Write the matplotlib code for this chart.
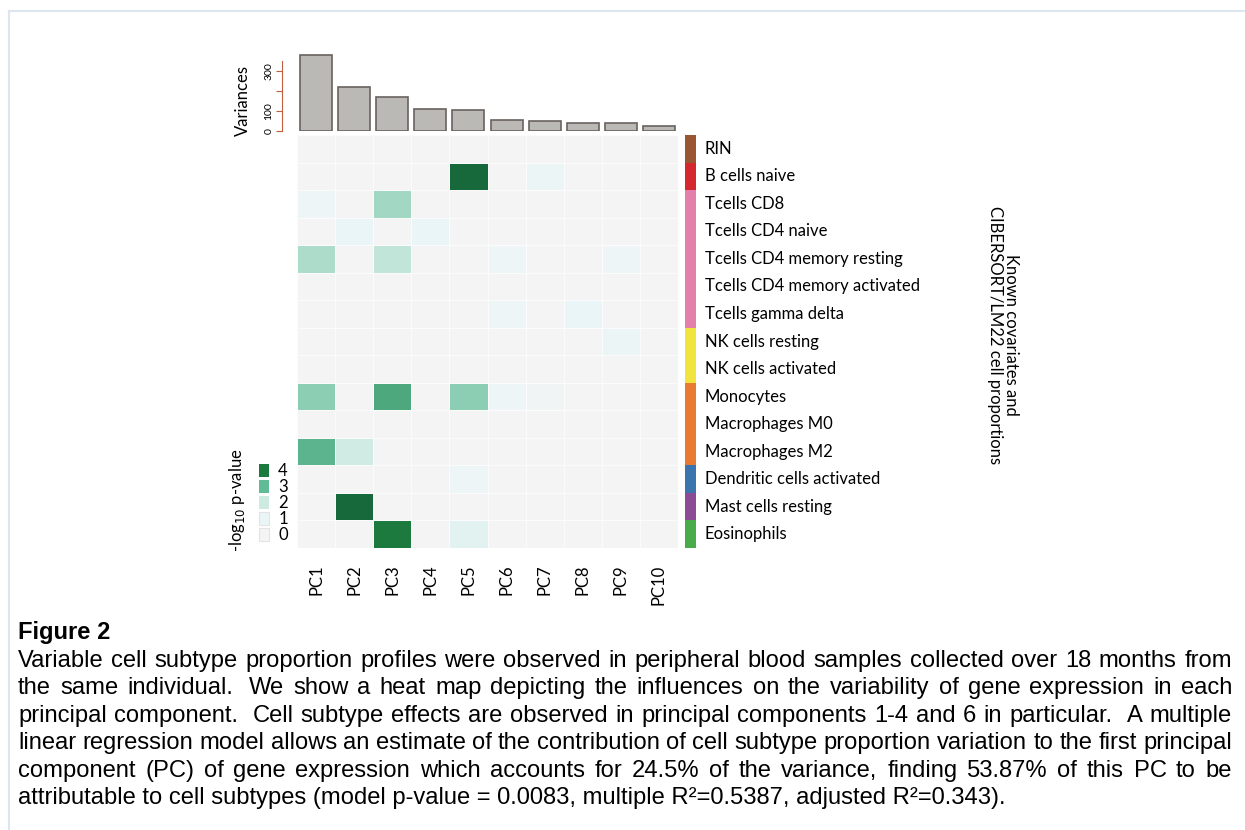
import re
import matplotlib
matplotlib.use('Agg')
import matplotlib.pyplot as plt
import numpy as np
from matplotlib.colors import LinearSegmentedColormap
from matplotlib.patches import Rectangle

# data
pcs = ['PC1', 'PC2', 'PC3', 'PC4', 'PC5', 'PC6', 'PC7', 'PC8', 'PC9', 'PC10']
variances = [378, 222, 170, 108, 103, 53, 48, 42, 38, 25]

row_names = ['RIN', 'B cells naive', 'Tcells CD8', 'Tcells CD4 naive',
             'Tcells CD4 memory resting', 'Tcells CD4 memory activated',
             'Tcells gamma delta', 'NK cells resting', 'NK cells activated',
             'Monocytes', 'Macrophages M0', 'Macrophages M2',
             'Dendritic cells activated', 'Mast cells resting', 'Eosinophils']
row_colors = ['#9a5532', '#d5272e', '#e27fab', '#e27fab', '#e27fab', '#e27fab',
              '#e27fab', '#f2e43f', '#f2e43f', '#e97a32', '#e97a32', '#e97a32',
              '#3a76ad', '#8c4c94', '#4aab4b']

# -log10 p-values, rows x PCs
logp = np.array([
    [0, 0, 0, 0, 0, 0, 0, 0, 0, 0],
    [0, 0, 0, 0, 4.3, 0, 0.8, 0, 0, 0],
    [0.7, 0, 2.4, 0, 0, 0, 0, 0, 0, 0],
    [0, 1.0, 0, 1.0, 0, 0, 0, 0, 0, 0],
    [2.3, 0, 2.1, 0, 0, 0.6, 0, 0, 0.6, 0],
    [0, 0, 0, 0, 0, 0, 0, 0, 0, 0],
    [0, 0, 0, 0, 0, 0.6, 0, 1.0, 0, 0],
    [0, 0, 0, 0, 0, 0, 0, 0, 0.8, 0],
    [0, 0, 0, 0, 0, 0, 0, 0, 0, 0],
    [2.6, 0, 3.3, 0, 2.6, 0.6, 0.3, 0, 0, 0],
    [0, 0, 0, 0, 0, 0, 0, 0, 0, 0],
    [3.1, 1.9, 0, 0, 0, 0, 0, 0, 0, 0],
    [0, 0, 0, 0, 0.7, 0, 0, 0, 0, 0],
    [0, 4.3, 0, 0, 0, 0, 0, 0, 0, 0],
    [0, 0, 4.0, 0, 1.3, 0, 0, 0, 0, 0],
])
legend_vals = [4, 3, 2, 1, 0]

caption_title = 'Figure 2'
caption_lines = [
    'Variable cell subtype proportion profiles were observed in peripheral blood samples collected over 18 months from',
    'the same individual.  We show a heat map depicting the influences on the variability of gene expression in each',
    'principal component.  Cell subtype effects are observed in principal components 1-4 and 6 in particular.  A multiple',
    'linear regression model allows an estimate of the contribution of cell subtype proportion variation to the first principal',
    'component (PC) of gene expression which accounts for 24.5% of the variance, finding 53.87% of this PC to be',
    'attributable to cell subtypes (model p-value = 0.0083, multiple R\u00b2=0.5387, adjusted R\u00b2=0.343).',
]

W, H = 1245, 830
vmax = 4.4
cmap = LinearSegmentedColormap.from_list(
    'pv', [(0, '#f4f4f4'), (1 / vmax, '#eaf5f7'), (2 / vmax, '#cdeae1'),
           (3 / vmax, '#62bb97'), (4 / vmax, '#1d7a3e'), (1, '#15633a')])

lab_font = 'Lato'
cap_font = 'Liberation Sans'

fig = plt.figure(figsize=(W / 100, H / 100), dpi=100)

def fx(px):
    return px / W

def fy(py):
    return 1 - py / H

# overlay in pixel coordinates for frame and legend
ov = fig.add_axes([0, 0, 1, 1])
ov.set_xlim(0, W)
ov.set_ylim(H, 0)
ov.axis('off')
ov.plot([9, 9], [11, H], color='#dde5ef', lw=1.5)
ov.plot([9, W], [11, 11], color='#dde5ef', lw=1.5)

# heatmap
hm_l, hm_r, hm_t, hm_b = 297, 678, 135, 548
ax = fig.add_axes([fx(hm_l), fy(hm_b), fx(hm_r - hm_l), (hm_b - hm_t) / H])
ax.pcolormesh(np.arange(len(pcs) + 1), np.arange(len(row_names) + 1), logp,
              cmap=cmap, vmin=0, vmax=vmax, edgecolors='#fbfbfb', linewidth=0.7)
ax.set_xlim(0, len(pcs))
ax.set_ylim(len(row_names), 0)
for s in ax.spines.values():
    s.set_visible(False)
ax.set_yticks([])
ax.set_xticks(np.arange(len(pcs)) + 0.5)
ax.set_xticklabels(pcs, rotation=90, fontsize=12, family=lab_font)
ax.tick_params(axis='x', length=0, pad=12)
for i, name in enumerate(row_names):
    ax.text(1 + (705 - hm_r) / (hm_r - hm_l), i + 0.5, name,
            transform=ax.get_yaxis_transform(), ha='left', va='center',
            fontsize=12, family=lab_font)

# side colour strip
axs = fig.add_axes([fx(685), fy(hm_b), fx(11), (hm_b - hm_t) / H])
for i, c in enumerate(row_colors):
    axs.add_patch(Rectangle((0, i), 1, 1, color=c, lw=0))
axs.set_xlim(0, 1)
axs.set_ylim(len(row_names), 0)
axs.axis('off')

# variance bars
axb = fig.add_axes([fx(hm_l), fy(131), fx(hm_r - hm_l), 78 / H])
axb.bar(np.arange(len(pcs)) + 0.5, variances, width=0.84, color='#bab9b5',
        edgecolor='#6a625e', linewidth=1.2)
axb.set_xlim(0, len(pcs))
axb.set_ylim(0, 390)
for k in ['top', 'right', 'bottom']:
    axb.spines[k].set_visible(False)
axb.spines['left'].set_position(('outward', 11))
axb.spines['left'].set_bounds(0, 350)
axb.spines['left'].set_color('#c0603f')
axb.spines['left'].set_linewidth(0.8)
axb.set_xticks([])
axb.set_yticks([0, 100, 200, 300])
axb.set_yticklabels(['0', '100', '', '300'], rotation=90, va='center',
                    fontsize=7.5, family=lab_font)
axb.tick_params(axis='y', length=4, width=0.8, color='#c0603f', pad=2)
fig.text(fx(243), fy(100), 'Variances', rotation=90, ha='center', va='center',
         fontsize=12, family=lab_font)

# right hand title
fig.text(fx(1003), fy(335), 'Known covariates and\nCIBERSORT/LM22 cell proportions',
         rotation=-90, ha='center', va='center', fontsize=12, family=lab_font,
         linespacing=1.0, multialignment='center')

# legend
for k, v in enumerate(legend_vals):
    y0 = 464 + k * 16
    edge = '#e3e3e3' if v < 2 else 'none'
    ov.add_patch(Rectangle((259, y0), 10, 13, facecolor=cmap(v / vmax),
                           edgecolor=edge, lw=0.8))
    ov.text(283, y0 + 6.5, str(v), ha='center', va='center', fontsize=12,
            family=lab_font)
fig.text(fx(237), fy(500), r'-log$_{10}$ p-value', rotation=90, ha='center',
         va='center', fontsize=12, family=lab_font)

# caption, justified
fig.canvas.draw()
renderer = fig.canvas.get_renderer()

def width(s, size):
    t = fig.text(0, 0, s, fontsize=size, family=cap_font)
    w = t.get_window_extent(renderer).width
    t.remove()
    return w

x0, x1 = 18, 1232
cap_size = 13.5 * (x1 - x0) / width(caption_lines[3], 13.5)
fig.text(fx(x0), fy(639), caption_title, ha='left', va='baseline',
         fontsize=cap_size, weight='bold', family=cap_font)
space_w = width('a a', cap_size) - width('aa', cap_size)
for n, line in enumerate(caption_lines):
    yb = 667 + n * 27.4
    if n == len(caption_lines) - 1:
        fig.text(fx(x0), fy(yb), line, ha='left', va='baseline',
                 fontsize=cap_size, family=cap_font)
        continue
    parts = re.split(r'( +)', line)
    words = parts[0::2]
    gaps = [len(g) for g in parts[1::2]]
    wws = [width(w, cap_size) for w in words]
    extra = (x1 - x0) - sum(wws) - sum(gaps) * space_w
    add = extra / len(gaps)
    x = x0
    for i, w in enumerate(words):
        fig.text(fx(x), fy(yb), w, ha='left', va='baseline',
                 fontsize=cap_size, family=cap_font)
        x += wws[i]
        if i < len(gaps):
            x += gaps[i] * space_w + add

fig.savefig('out.png', dpi=100)
